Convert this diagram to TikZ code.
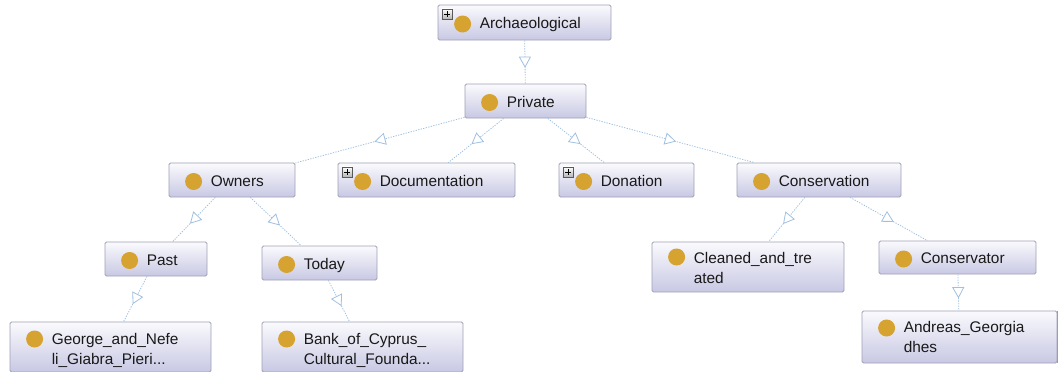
\documentclass[tikz,border=0pt]{standalone}
\usepackage{fontspec}
\setmainfont{Liberation Sans}
\usetikzlibrary{calc,decorations.markings}

\definecolor{boxtop}{RGB}{250,250,253}
\definecolor{boxbot}{RGB}{200,200,228}
\definecolor{boxline}{RGB}{160,160,182}
\definecolor{golddot}{RGB}{214,162,48}
\definecolor{isaline}{RGB}{160,192,225}
\definecolor{textdark}{RGB}{25,25,25}
\definecolor{selgreen}{RGB}{90,205,90}

\tikzset{
  owlbox/.style={rectangle, rounded corners=1.5pt, draw=boxline, line width=0.8pt,
    top color=boxtop, bottom color=boxbot, inner sep=0pt},
  classdot/.style={circle, fill=golddot, minimum size=17pt, inner sep=0pt},
  lbl/.style={anchor=base west, inner sep=0pt, text=textdark,
    font=\fontsize{15.4}{20}\selectfont, align=left},
  expander/.style={rectangle, minimum size=10.5pt, inner sep=0pt,
    draw=black!65, line width=0.6pt, top color=white, bottom color=black!30,
    path picture={
      \draw[black, line width=1.1pt]
        ([xshift=2.2pt]path picture bounding box.west) -- ([xshift=-2.2pt]path picture bounding box.east)
        ([yshift=-2.2pt]path picture bounding box.north) -- ([yshift=2.2pt]path picture bounding box.south);
    }},
  isa/.style={draw=isaline, line width=0.8pt, dash pattern=on 1.3pt off 1.3pt,
    postaction={decorate},
    decoration={markings, mark=at position 0.5 with {
      \filldraw[fill=white, draw=isaline, solid, line width=0.8pt]
        (5pt,0pt) -- (-5pt,5.5pt) -- (-5pt,-5.5pt) -- cycle;
    }}},
}

\begin{document}
\begin{tikzpicture}[x=1pt, y=-1pt]
  \useasboundingbox (0,0) rectangle (1058,372);

  % class boxes
  \node[owlbox, minimum width=173pt, minimum height=35pt] (arch)        at (524.5,22.5) {};
  \node[owlbox, minimum width=121pt, minimum height=34pt] (priv)        at (525.5,101)  {};
  \node[owlbox, minimum width=126pt, minimum height=34pt] (owners)      at (232,180)    {};
  \node[owlbox, minimum width=177pt, minimum height=34pt] (doc)         at (426.5,180)  {};
  \node[owlbox, minimum width=135pt, minimum height=34pt] (don)         at (626.5,180)  {};
  \node[owlbox, minimum width=164pt, minimum height=34pt] (cons)        at (819,180)    {};
  \node[owlbox, minimum width=102pt, minimum height=34pt] (past)        at (156,259)    {};
  \node[owlbox, minimum width=115pt, minimum height=34pt] (today)       at (319.5,263)  {};
  \node[owlbox, minimum width=201pt, minimum height=50pt] (george)      at (110.5,347)  {};
  \node[owlbox, minimum width=201pt, minimum height=50pt] (bank)        at (362.5,347)  {};
  \node[owlbox, minimum width=192pt, minimum height=50pt] (cleaned)     at (748,267)    {};
  \node[owlbox, minimum width=157pt, minimum height=33pt] (conservator) at (957.5,257.5){};
  \node[owlbox, minimum width=195pt, minimum height=52pt] (andreas)     at (959.5,337)  {};
  \draw[selgreen, line width=1.2pt] (andreas.north east) -- (andreas.south east);

  % single-line labels
  \foreach \n/\t in {arch/Archaeological, priv/Private, owners/Owners,
                     doc/Documentation, don/Donation, cons/Conservation,
                     past/Past, today/Today, conservator/Conservator} {
    \node[classdot] (\n-dot) at ($(\n.west)+(25,1.5)$) {};
    \node[lbl] (\n-txt) at ($(\n.west)+(42,6)$) {\t};
  }

  % two-line labels (base anchor sits on the second line)
  \node[classdot] (george-dot) at ($(george.west)+(25,-8)$) {};
  \node[lbl] (george-txt) at ($(george.west)+(42,17)$) {George\_and\_Nefe\\li\_Giabra\_Pieri...};
  \node[classdot] (bank-dot) at ($(bank.west)+(25,-8)$) {};
  \node[lbl] (bank-txt) at ($(bank.west)+(42,17)$) {Bank\_of\_Cyprus\_\\Cultural\_Founda...};
  \node[classdot] (cleaned-dot) at ($(cleaned.west)+(25,-10)$) {};
  \node[lbl] (cleaned-txt) at ($(cleaned.west)+(42,16)$) {Cleaned\_and\_tre\\ated};
  \node[classdot] (andreas-dot) at ($(andreas.west)+(25,-9)$) {};
  \node[lbl] (andreas-txt) at ($(andreas.west)+(42,15)$) {Andreas\_Georgia\\dhes};

  % expand markers
  \node[expander] (arch-plus) at ($(arch.north west)+(9.5,9.5)$) {};
  \node[expander] (doc-plus)  at ($(doc.north west)+(9.5,9.5)$) {};
  \node[expander] (don-plus)  at ($(don.north west)+(9.5,9.5)$) {};

  % subclass links
  \draw[isa] (arch) -- (priv);
  \draw[isa] (priv) -- (owners);
  \draw[isa] (priv) -- (doc);
  \draw[isa] (priv) -- (don);
  \draw[isa] (priv) -- (cons);
  \draw[isa] (owners) -- (past);
  \draw[isa] (owners) -- (today);
  \draw[isa] (past) -- (george);
  \draw[isa] (today) -- (bank);
  \draw[isa] (cons) -- (cleaned);
  \draw[isa] (cons) -- (conservator);
  \draw[isa] (conservator) -- (andreas);
\end{tikzpicture}
\end{document}
